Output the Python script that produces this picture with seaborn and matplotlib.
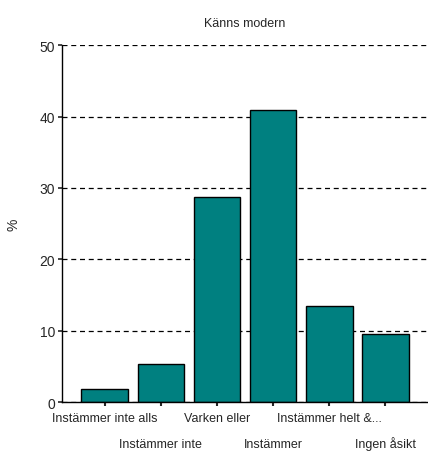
import pandas as pd
import seaborn as sns
import matplotlib.pyplot as plt

# Data
kategorier = ['Instämmer inte alls', 'Instämmer inte', 'Varken eller',
              'Instämmer', 'Instämmer helt &...', 'Ingen åsikt']
procent = [1.8, 5.3, 28.7, 40.9, 13.4, 9.5]
y_ticks = [0, 10, 20, 30, 40, 50]

data = pd.DataFrame({'kategori': kategorier, 'procent': procent})

sns.set_style('white')
plt.rcParams['font.family'] = ['Liberation Sans', 'DejaVu Sans']

fig = plt.figure(figsize=(4.28, 4.52), dpi=100)
ax = fig.add_axes([0.145, 0.108, 0.855, 0.79])

ax.set_axisbelow(True)
ax.yaxis.grid(True, linestyle=(0, (4, 3)), color='black', linewidth=0.9)
sns.barplot(data=data, x='kategori', y='procent', color='#008080',
            saturation=1, edgecolor='black', linewidth=1, width=0.83, ax=ax)

ax.set_ylim(0, 50)
ax.set_xlim(-0.76, 5.76)
ax.set_yticks(y_ticks)
ax.tick_params(axis='y', labelsize=10, length=3, width=1.2, pad=2, left=True, direction='out')
ax.tick_params(axis='x', labelsize=9, length=3, width=1.5, bottom=True, direction='out')

# alternate the category labels over two rows, on a common baseline
for i, tick in enumerate(ax.xaxis.get_major_ticks()):
    tick.label1.set_verticalalignment('baseline')
    tick.set_pad(29 if i % 2 == 1 else 10.5)

for side in ['top', 'right']:
    ax.spines[side].set_visible(False)
for side in ['left', 'bottom']:
    ax.spines[side].set_color('black')
    ax.spines[side].set_linewidth(1)

ax.set_xlabel('')
ax.set_ylabel('%', fontsize=10, labelpad=14)
ax.set_title('Känns modern', fontsize=9, pad=14)

fig.savefig('out.png', dpi=100)
